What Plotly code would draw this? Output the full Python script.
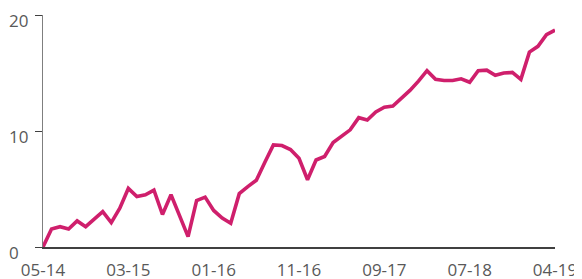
import plotly.graph_objects as go

values = [0, 1.55, 1.75, 1.55, 2.25, 1.75, 2.4, 3.05, 2.1, 3.35,
          5.05, 4.35, 4.5, 4.9, 2.8, 4.5, 2.7, 0.9, 4.0, 4.3,
          3.15, 2.5, 2.05, 4.6, 5.2, 5.75, 7.3, 8.8, 8.75, 8.4,
          7.65, 5.8, 7.5, 7.8, 9.0, 9.6, 10.1, 11.15, 10.95, 11.65,
          12.05, 12.15, 12.8, 13.5, 14.3, 15.2, 14.45, 14.35, 14.35, 14.5,
          14.2, 15.2, 15.25, 14.8, 15.0, 15.05, 14.45, 16.8, 17.3, 18.3,
          18.7]
x_index = list(range(len(values)))
tick_positions = [0, 10, 20, 30, 40, 50, 60]
tick_labels = ["05-14", "03-15", "01-16", "11-16", "09-17", "07-18", "04-19"]
y_ticks = [0, 10, 20]

fig = go.Figure()
fig.add_trace(go.Scatter(
    x=x_index, y=values, mode="lines",
    line=dict(color="#CF1F6C", width=3.6),
    hoverinfo="skip", cliponaxis=False,
))

font = dict(family="Open Sans, sans-serif", size=17, color="#595959")

# page body has an 8px margin, so the figure is placed at (8, 8)
fig.update_layout(
    width=582, height=279,
    margin=dict(l=35, r=35, t=7, b=40, autoexpand=False),
    paper_bgcolor="white", plot_bgcolor="white",
    showlegend=False,
    font=font,
)
fig.update_xaxes(
    range=[0, 60], tickvals=tick_positions, ticktext=tick_labels,
    showgrid=False, zeroline=False, showline=True, automargin=False,
    linecolor="#404040", linewidth=1.5, ticks="", ticklen=0,
    ticklabelstandoff=7,
    tickfont=font, fixedrange=True,
)
fig.update_yaxes(
    range=[0, 20], tickvals=y_ticks, automargin=False,
    showgrid=False, zeroline=False, showline=True,
    linecolor="#7f7f7f", linewidth=1, ticks="outside", ticklen=7,
    tickcolor="#404040", tickwidth=1,
    showticklabels=False, fixedrange=True,
)

# y tick labels are left-aligned in the reference
for v in y_ticks:
    fig.add_annotation(
        x=0, xref="paper", y=v, yref="y",
        text=str(v), showarrow=False, font=font,
        xanchor="left", yanchor="middle", xshift=-36, yshift=-5,
    )

fig.write_html("out.html")
